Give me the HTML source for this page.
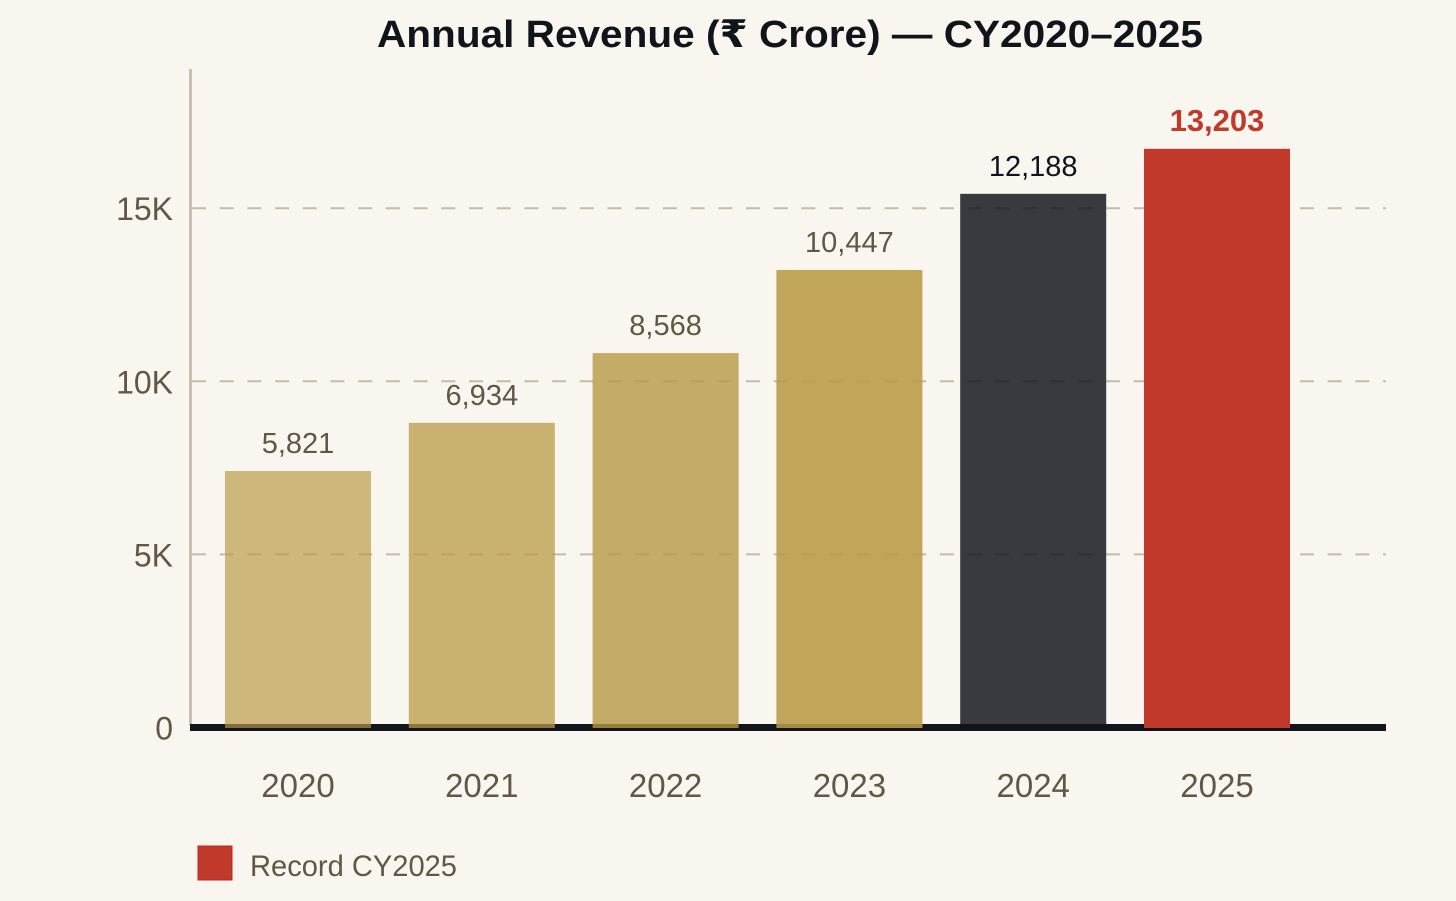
<!DOCTYPE html>
<html lang="en">
<head>
<meta charset="utf-8">
<title>Annual Revenue</title>
<style>
html,body{margin:0;padding:0;background:#f9f6ef;}
svg{display:block;}
text{font-family:"Liberation Sans","DejaVu Sans",sans-serif;}
</style>
</head>
<body>
<svg id="chart" width="1456" height="901" viewBox="0 0 1456 901" xmlns="http://www.w3.org/2000/svg">
<rect x="0" y="0" width="1456" height="901" fill="#f9f6ef"/>
<text x="790" y="47" text-anchor="middle" font-size="38" font-weight="700" fill="#11141a" textLength="826" lengthAdjust="spacingAndGlyphs">Annual Revenue (₹ Crore) — CY2020–2025</text>
<g id="grid"></g>
<g id="axes"></g>
<g id="bars"></g>
<g id="labels"></g>
<rect x="198" y="846" width="34" height="34" fill="#c0392b" stroke="#c4271c" stroke-width="1"/>
<text x="250" y="876" font-size="30" fill="#5f5848" textLength="207" lengthAdjust="spacingAndGlyphs">Record CY2025</text>
</svg>
<script>
var categories = ['2020', '2021', '2022', '2023', '2024', '2025'];
var barValues = [7410, 8800, 10815, 13215, 15415, 16715];
var printedLabels = ['5,821', '6,934', '8,568', '10,447', '12,188', '13,203'];
var tickValues = [0, 5000, 10000, 15000];
var tickLabels = ['0', '5K', '10K', '15K'];

var NS = 'http://www.w3.org/2000/svg';
var plot = {left: 190, right: 1386, baseline: 727.5, unitsPerPx: 5000 / 173.1, firstCenter: 298, step: 183.8, barWidth: 146};
function y(v) { return plot.baseline - v / plot.unitsPerPx; }
function x(i) { return plot.firstCenter + i * plot.step; }
function make(tag, attrs, parent) {
  var el = document.createElementNS(NS, tag);
  for (var k in attrs) el.setAttribute(k, attrs[k]);
  document.getElementById(parent).appendChild(el);
  return el;
}
var barFill = ['#b89a44', '#b89a44', '#b89a44', '#b89a44', '#11131a', '#c0392b'];
var barOpacity = [0.68, 0.75, 0.8, 0.88, 0.83, 1];
var labelFill = ['#5f5848', '#5f5848', '#5f5848', '#5f5848', '#11141a', '#c0392b'];

tickValues.forEach(function (t, i) {
  if (t > 0) {
    var line = make('line', {x1: 192, x2: plot.right, y1: y(t), y2: y(t), stroke: '#c4bcab', 'stroke-width': 2, 'stroke-dasharray': '14 13.7'}, 'grid');
    
    
  }
  var tick = make('text', {x: 173, y: y(t) + 12, 'text-anchor': 'end', 'font-size': 32, fill: '#5f5848'}, 'axes');
  tick.textContent = tickLabels[i];
  
  
});

var yAxis = make('line', {x1: 190.5, x2: 190.5, y1: 69, y2: 725, stroke: '#c8c0b0', 'stroke-width': 3}, 'axes');


var xAxis = make('rect', {x: plot.left, y: 724, width: plot.right - plot.left, height: 7, fill: '#11141a'}, 'axes');



categories.forEach(function (c, i) {
  var top = y(barValues[i]);
  var bar = make('rect', {x: x(i) - plot.barWidth / 2, y: top, width: plot.barWidth, height: 728 - top, fill: barFill[i], 'fill-opacity': barOpacity[i]}, 'bars');
  
  

  var isRecord = i === categories.length - 1;
  var val = make('text', {x: x(i), y: top - 18, 'text-anchor': 'middle', 'font-size': isRecord ? 31 : 29, 'font-weight': isRecord ? 700 : 400, fill: labelFill[i]}, 'labels');
  val.textContent = printedLabels[i];
  
  

  var cat = make('text', {x: x(i), y: 797, 'text-anchor': 'middle', 'font-size': 33, fill: '#5f5848'}, 'labels');
  cat.textContent = c;
  
  
});
</script>
</body>
</html>
